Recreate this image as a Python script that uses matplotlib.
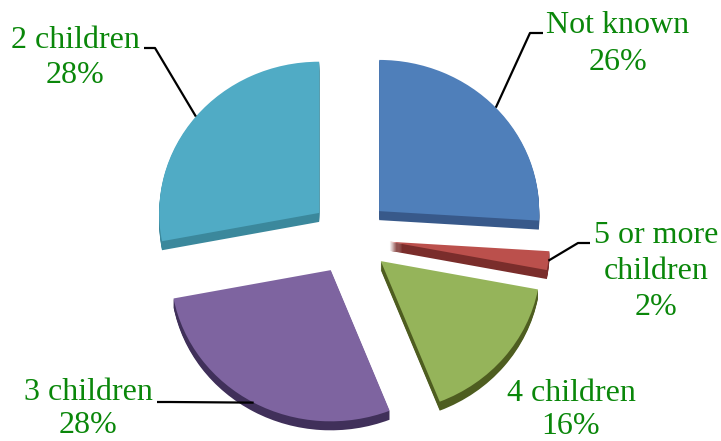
"""
Exploded 3D-style pie of number of children (Excel look-alike).
"""
import numpy as np
import matplotlib.pyplot as plt
from matplotlib.transforms import Affine2D

# data
labels = ['Not known', '5 or more\nchildren', '4 children', '3 children', '2 children']
shares = [26, 2, 16, 28, 28]

top_colors = ['#4f7fba', '#bb504c', '#95b45a', '#7e64a0', '#50abc5']
side_colors = ['#38598a', '#7a2d2b', '#4e5d20', '#40305a', '#3b889c']

# layout (pixels, y measured from the top of the image)
W, H = 721, 441
cx, cy = 350, 237
R = 160          # pie radius
explode = 40     # offset of every slice
squash = 0.945   # slight tilt of the pie
depth = 9        # thickness of the 3D side

label_pos = [(618, 33, 37), (656, 243, 36), (571, 401, 33), (88, 400, 33), (75, 48, 35)]
leader_elbow = [(530, 33, 543), (578, 243, 590), None, (170, 402, 157), (155, 48, 144)]
text_green = '#0a870a'

fig = plt.figure(figsize=(W / 100, H / 100), dpi=100)
ax = fig.add_axes([0, 0, 1, 1])

center = (cx, H - cy)


def tilt(shift=0):
    # squash around the pie centre, then move down for the side layers
    return (Affine2D().translate(-center[0], -center[1]).scale(1, squash)
            .translate(center[0], center[1] - shift) + ax.transData)


# side faces: stack of darker copies going downwards
for d in range(depth, 0, -1):
    wedges, _ = ax.pie(shares, colors=side_colors, explode=[explode] * len(shares),
                       radius=R, center=center, startangle=90, counterclock=False,
                       wedgeprops=dict(linewidth=0))
    for w in wedges:
        w.set_transform(tilt(d))

# top faces
wedges, _ = ax.pie(shares, colors=top_colors, explode=[explode] * len(shares),
                   radius=R, center=center, startangle=90, counterclock=False,
                   wedgeprops=dict(linewidth=0))
for w in wedges:
    w.set_transform(tilt(0))

ax.set_aspect('auto')
ax.set_xlim(0, W)
ax.set_ylim(0, H)
ax.axis('off')

# leader lines from the middle of each slice's arc to the label
total = float(sum(shares))
start = 0.0
for i, share in enumerate(shares):
    mid = np.radians(360 * (start + share / 2) / total)   # clockwise from 12 o'clock
    start += share
    ex = center[0] + explode * np.sin(mid)
    ey = center[1] + explode * np.cos(mid)
    ax_x = ex + R * np.sin(mid)
    ax_y = center[1] + (ey + R * np.cos(mid) - center[1]) * squash
    if leader_elbow[i] is not None:
        bx, by, tx = leader_elbow[i]
        ax.plot([ax_x, bx, tx], [ax_y, H - by, H - by], color='black', lw=1.6,
                solid_capstyle='butt')

    lines = labels[i].split('\n') + ['{}%'.format(share)]
    lx, ly, step = label_pos[i]
    for k, s in enumerate(lines):
        ax.text(lx, H - (ly + k * step), s, ha='center', va='baseline',
                fontsize=23, family='Liberation Serif', color=text_green)

fig.savefig('out.png', dpi=100)
